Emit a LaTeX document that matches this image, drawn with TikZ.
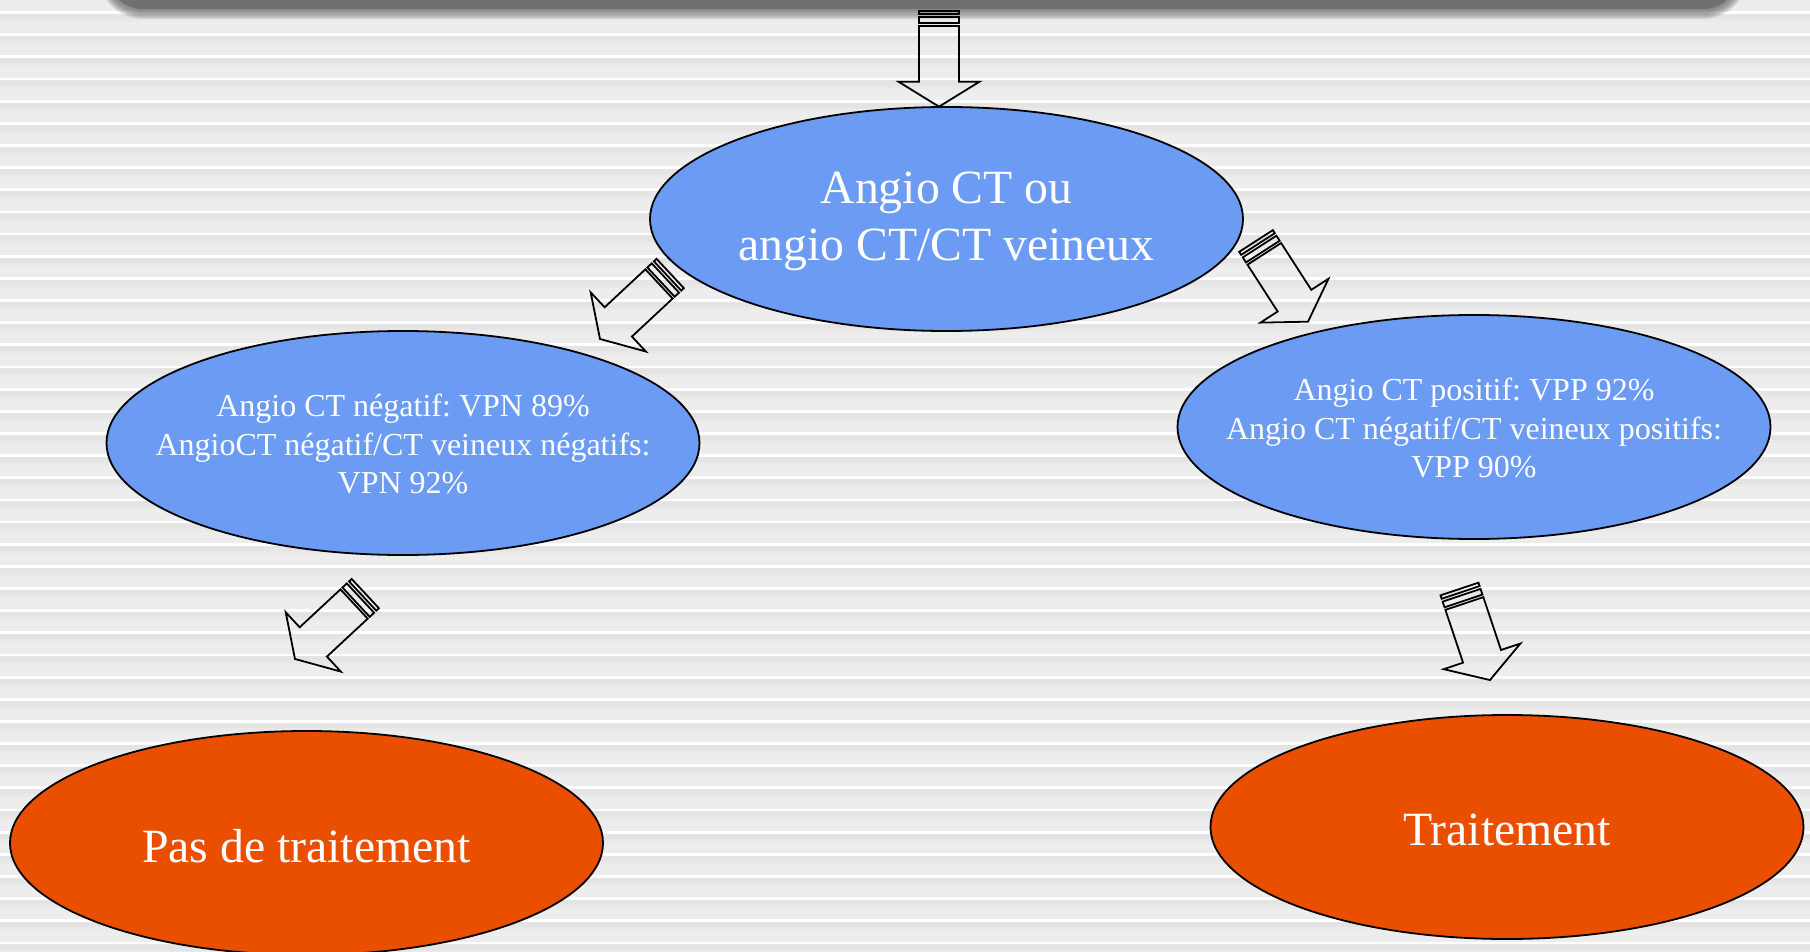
\documentclass[tikz,border=0pt]{standalone}
\usepackage{fontspec}
\setmainfont{Liberation Serif}
\usetikzlibrary{shapes.geometric}
\definecolor{nodeblue}{HTML}{6B9BF2}
\definecolor{nodeorange}{HTML}{EA4F00}
\definecolor{bannergray}{HTML}{707070}
\definecolor{bgbase}{HTML}{EDEDED}
\definecolor{bgdark}{HTML}{E4E4E4}
\tikzset{
  bubble/.style={ellipse, draw=black, line width=1.8pt, minimum width=593pt, minimum height=224pt, inner sep=0pt},
  bluebubble/.style={bubble, fill=nodeblue},
  orangebubble/.style={bubble, fill=nodeorange},
  bigtext/.style={text=white, font=\fontsize{47.7}{57}\selectfont, align=center, inner sep=0pt},
  smalltext/.style={text=white, font=\fontsize{32}{38.4}\selectfont, align=center, inner sep=0pt},
  arrowline/.style={draw=black, line width=1.8pt, line join=miter},
  striparrow/.pic={
    \draw[arrowline] (0,-20) rectangle (3.6,20);
    \draw[arrowline] (6.6,-20) rectangle (12.6,20);
    \draw[arrowline] (15.3,-20) -- (71,-20) -- (71,-40.5) -- (96,0) -- (71,40.5) -- (71,20) -- (15.3,20) -- cycle;
  }
}
\frenchspacing
\begin{document}
\begin{tikzpicture}[x=1pt,y=-1pt]
\useasboundingbox (0,0) rectangle (1810,952);
% striped background
\fill[bgbase] (0,0) rectangle (1810,952);
\foreach \i in {0,...,43} {
  \pgfmathsetmacro\yy{11.2+22.15*\i}
  \fill[white] (0,\yy) rectangle (1810,\yy+2.8);
  \fill[bgdark] (0,\yy+2.8) rectangle (1810,\yy+8);
  \fill[bgdark!50!bgbase] (0,\yy+8) rectangle (1810,\yy+11);
}
% top banner with soft shadow
\foreach \k in {1,...,10} {
  \fill[bannergray, opacity=0.14, rounded corners=35+\k] (108-\k,-60) rectangle (1738+\k,9+\k);
}
\fill[bannergray, rounded corners=35] (108,-60) rectangle (1738,9);
% nodes
\node[bluebubble] (top) at (946.5,219) {};
\node[bluebubble] (neg) at (403,443) {};
\node[bluebubble] (pos) at (1474,427) {};
\node[orangebubble] (notreat) at (306.5,843) {};
\node[orangebubble] (treat) at (1507,827) {};
\node[bigtext] (toptext) at ([yshift=-2pt]top.center) {Angio CT ou\\angio CT/CT veineux};
\node[smalltext] (negtext) at ([yshift=-1pt]neg.center) {Angio CT négatif: VPN 89\%\\AngioCT négatif/CT veineux négatifs:\\VPN 92\%};
\node[smalltext] (postext) at ([yshift=-1pt]pos.center) {Angio CT positif: VPP 92\%\\Angio CT négatif/CT veineux positifs:\\VPP 90\%};
\node[bigtext] (notreattext) at ([yshift=-3pt]notreat.center) {Pas de traitement};
\node[bigtext] (treattext) at ([yshift=-3pt]treat.center) {Traitement};
% block arrows
\coordinate (a1) at (939,10.7);
\coordinate (a2) at (670.2,273.5);
\coordinate (a3) at (1256,241);
\coordinate (a4) at (365.3,593.6);
\coordinate (a5) at (1459.5,589);
\pic[rotate=-90] at (a1) {striparrow};
\pic[rotate=-137] at (a2) {striparrow};
\pic[rotate=-57.2] at (a3) {striparrow};
\pic[rotate=-137.1] at (a4) {striparrow};
\pic[rotate=-71.5] at (a5) {striparrow};
\end{tikzpicture}
\end{document}
